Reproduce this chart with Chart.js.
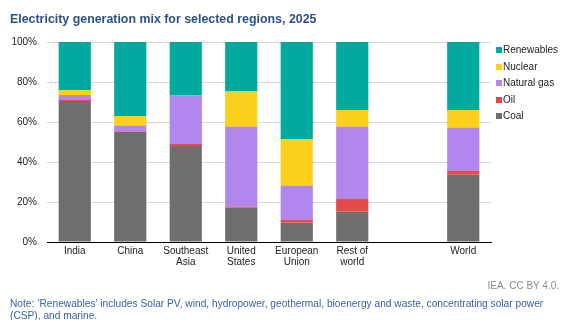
<!DOCTYPE html>
<html>
<head>
<meta charset="utf-8">
<script src="https://cdn.jsdelivr.net/npm/chart.js@4/dist/chart.umd.min.js"></script>
<style>
  html, body { margin: 0; padding: 0; background: #fff; }
  #wrap { position: relative; width: 561px; height: 320px; overflow: hidden; font-family: "Liberation Sans", Arial, sans-serif; }
  #chart { position: absolute; left: 0; top: 0; }
  #title { position: absolute; left: 10px; top: 12px; font-size: 12.4px; font-weight: bold; color: #2c5189; white-space: nowrap; }
  #legend { position: absolute; left: 496px; top: 43px; font-size: 10px; color: #222; }
  #legend .item { height: 16.5px; line-height: 14px; white-space: nowrap; }
  #legend .box { display: inline-block; width: 6px; height: 6px; margin-right: 1px; vertical-align: 0px; }
  #source { position: absolute; right: 2px; top: 280px; font-size: 10px; color: #8c8c8c; }
  #note { position: absolute; left: 10px; top: 298px; width: 548px; font-size: 10.2px; line-height: 11.5px; color: #3a62a0; }
</style>
</head>
<body>
<div id="wrap">
  <canvas id="chart" width="561" height="320"></canvas>
  <div id="title">Electricity generation mix for selected regions, 2025</div>
  <div id="legend"></div>
  <div id="source">IEA. CC BY 4.0.</div>
  <div id="note">Note: ‘Renewables’ includes Solar PV, wind, hydropower, geothermal, bioenergy and waste, concentrating solar power (CSP), and marine.</div>
</div>
<script>
// Regions (an empty slot separates the regional bars from World)
const regions = [["India"], ["China"], ["Southeast", "Asia"], ["United", "States"], ["European", "Union"], ["Rest of", "world"], [""], ["World"]];

// Share of generation, %
const coal       = [70.5, 55.0, 48.0, 17.3,  9.7, 15.3, null, 33.7];
const oil        = [ 0.5,  0.3,  1.0,  0.5,  1.6,  6.4, null,  2.1];
const naturalGas = [ 2.5,  3.0, 24.2, 39.9, 17.0, 36.0, null, 21.4];
const nuclear    = [ 2.5,  4.7,  0.0, 17.6, 23.2,  8.3, null,  8.8];
const renewables = [24.0, 37.0, 26.8, 24.7, 48.5, 34.0, null, 34.0];

const yTicks = [0, 20, 40, 60, 80, 100];

const series = [
  { label: "Coal",        data: coal,       color: "#6e6e6e" },
  { label: "Oil",         data: oil,        color: "#e34a4a" },
  { label: "Natural gas", data: naturalGas, color: "#b187ee" },
  { label: "Nuclear",     data: nuclear,    color: "#fdd01f" },
  { label: "Renewables",  data: renewables, color: "#00aa9e" }
];

const font = { family: "'Liberation Sans', Arial, sans-serif", size: 10 };

new Chart(document.getElementById("chart"), {
  type: "bar",
  data: {
    labels: regions,
    datasets: series.map(s => ({
      label: s.label,
      data: s.data,
      backgroundColor: s.color,
      borderWidth: 0,
      categoryPercentage: 1.0,
      barPercentage: 0.58
    }))
  },
  options: {
    responsive: false,
    animation: false,
    layout: { padding: { top: 42, right: 70, bottom: 38, left: 0 } },
    plugins: { legend: { display: false }, title: { display: false }, tooltip: { enabled: false } },
    scales: {
      x: {
        stacked: true,
        grid: { display: false, drawTicks: false },
        border: { display: true, color: "#000", width: 1 },
        ticks: { font: Object.assign({ lineHeight: 1.15 }, font), color: "#222", padding: 3, maxRotation: 0, autoSkip: false },
        afterFit: s => { s.height = 40; }
      },
      y: {
        stacked: true,
        min: 0,
        max: 100,
        afterBuildTicks: s => { s.ticks = yTicks.map(v => ({ value: v })); },
        grid: { color: "#d9d9d9", lineWidth: 1, drawTicks: false },
        border: { display: false },
        ticks: { font: font, color: "#222", padding: 10, callback: v => v + "%" },
        afterFit: s => { s.width = 47; }
      }
    }
  }
});

// Legend, listed top of stack first
const legend = document.getElementById("legend");
series.slice().reverse().forEach(s => {
  const row = document.createElement("div");
  row.className = "item";
  const box = document.createElement("span");
  box.className = "box";
  box.style.background = s.color;
  row.appendChild(box);
  row.appendChild(document.createTextNode(s.label));
  legend.appendChild(row);
});
</script>
</body>
</html>
